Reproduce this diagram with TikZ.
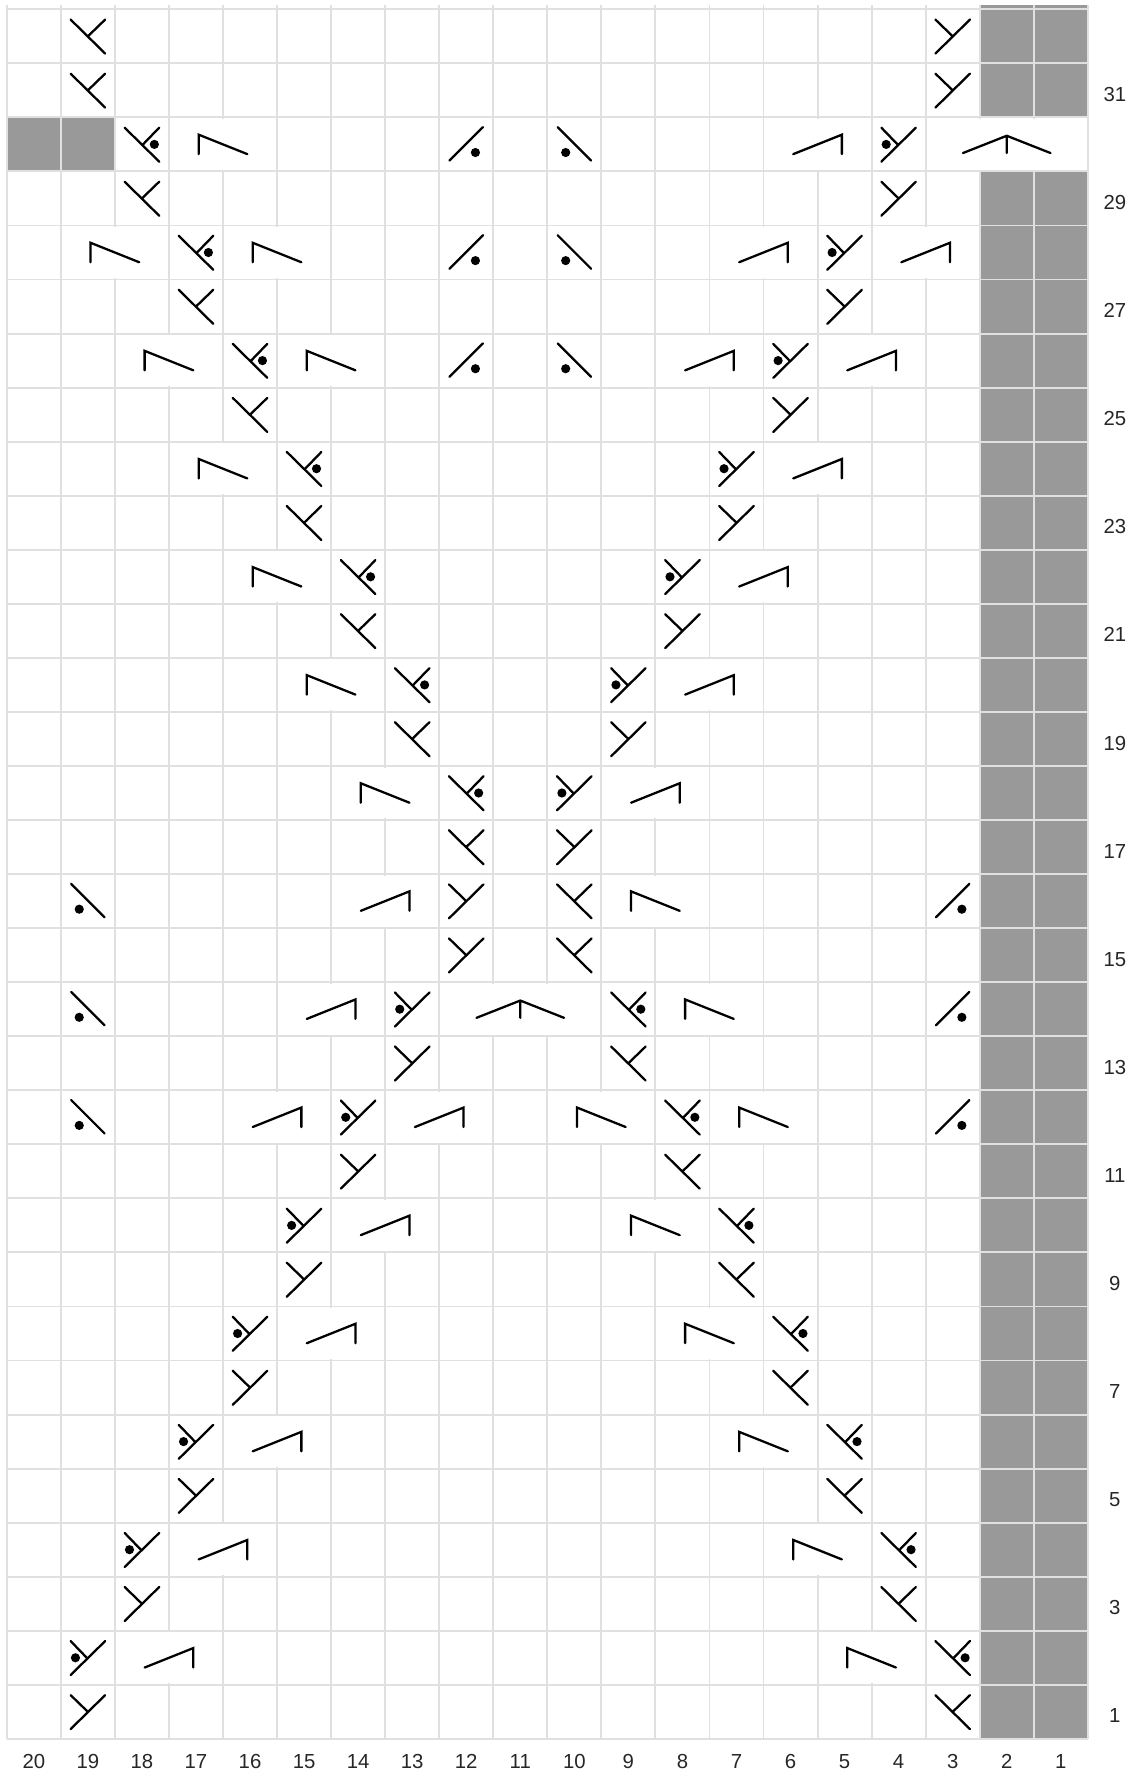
\documentclass[tikz,border=0pt]{standalone}
\usepackage{fontspec}
\setmainfont{Liberation Sans}
\usepackage{xcolor}
\usepackage{tikz}
\definecolor{colGrid}{RGB}{224,224,224}
\definecolor{colNo}{RGB}{153,153,153}

\begin{document}
\begin{tikzpicture}[
  lab/.style={font=\fontsize{10.7}{12}\selectfont, text=black!85, inner sep=0pt, anchor=base},
  gr/.style={draw=colGrid, line width=1pt},
  nost/.style={fill=colNo},
  st/.style={black, line width=1.2pt, line cap=round, line join=miter},
  dot/.style={fill=black},
  % decreases, one cell wide
  kl/.pic={\draw[st] (-.32,.31)--(.32,-.32) (.32,.31)--(0,0);},
  kr/.pic={\draw[st] (.32,.31)--(-.32,-.32) (-.32,.31)--(0,0);},
  kld/.pic={\draw[st] (-.32,.31)--(.32,-.32) (.32,.31)--(.02,0);
    \fill[dot] (.23,0) circle (.085);},
  krd/.pic={\draw[st] (.32,.31)--(-.32,-.32) (-.32,.31)--(-.02,0);
    \fill[dot] (-.23,0) circle (.085);},
  % yarn overs
  ynr/.pic={\draw[st] (-.31,-.3)--(.31,.32); \fill[dot] (.17,-.15) circle (.085);},
  ynl/.pic={\draw[st] (-.31,.32)--(.31,-.3); \fill[dot] (-.16,-.15) circle (.085);},
  % two cells wide, placed at the left cell
  wdn/.pic={\fill[white] (.45,-.47) rectangle (.55,.47);
    \draw[st] (.05,-.18)--(.05,.18)--(.95,-.18);},
  wup/.pic={\fill[white] (.45,-.47) rectangle (.55,.47);
    \draw[st] (.05,-.18)--(.95,.18)--(.95,-.18);},
  % three cells wide, placed at the middle cell
  wtr/.pic={\fill[white] (-.55,-.47) rectangle (.55,.47);
    \draw[st] (-.81,-.16)--(0,.16)--(.81,-.16) (0,.16)--(0,-.16);}
]
\useasboundingbox (-.126,-.65) rectangle (20.836,32.172);

% Cell centres
\foreach \c in {1,...,20}
  \foreach \r in {1,...,32}
    \coordinate (c\c-\r) at ({20.5-\c},{\r-.5});

% No stitch
\fill[nost] (18,0) rectangle (20,29);
\fill[nost] (18,30) rectangle (20,32.07);
\fill[nost] (0,29) rectangle (2,30);

% Grid
\foreach \r in {0,...,32}
  \draw[gr] (0,\r)--(20,\r);
\foreach \x in {0,...,20}
  \draw[gr] (\x,0)--(\x,32.07);

% Labels
\foreach \r in {1,3,...,31}
  \node[lab] (r\r) at (20.5,{\r-.705}) {\r};
\foreach \c in {1,...,20}
  \node[lab] (n\c) at ({20.5-\c},-.545) {\c};

% Row 32
\pic at (c19-32) {kl};
\pic at (c3-32) {kr};
% Row 31
\pic at (c19-31) {kl};
\pic at (c3-31) {kr};
% Row 30
\pic at (c18-30) {kld};
\pic at (c17-30) {wdn};
\pic at (c12-30) {ynr};
\pic at (c10-30) {ynl};
\pic at (c6-30) {wup};
\pic at (c4-30) {krd};
\pic at (c2-30) {wtr};
% Row 29
\pic at (c18-29) {kl};
\pic at (c4-29) {kr};
% Row 28
\pic at (c19-28) {wdn};
\pic at (c17-28) {kld};
\pic at (c16-28) {wdn};
\pic at (c12-28) {ynr};
\pic at (c10-28) {ynl};
\pic at (c7-28) {wup};
\pic at (c5-28) {krd};
\pic at (c4-28) {wup};
% Row 27
\pic at (c17-27) {kl};
\pic at (c5-27) {kr};
% Row 26
\pic at (c18-26) {wdn};
\pic at (c16-26) {kld};
\pic at (c15-26) {wdn};
\pic at (c12-26) {ynr};
\pic at (c10-26) {ynl};
\pic at (c8-26) {wup};
\pic at (c6-26) {krd};
\pic at (c5-26) {wup};
% Row 25
\pic at (c16-25) {kl};
\pic at (c6-25) {kr};
% Row 24
\pic at (c17-24) {wdn};
\pic at (c15-24) {kld};
\pic at (c7-24) {krd};
\pic at (c6-24) {wup};
% Row 23
\pic at (c15-23) {kl};
\pic at (c7-23) {kr};
% Row 22
\pic at (c16-22) {wdn};
\pic at (c14-22) {kld};
\pic at (c8-22) {krd};
\pic at (c7-22) {wup};
% Row 21
\pic at (c14-21) {kl};
\pic at (c8-21) {kr};
% Row 20
\pic at (c15-20) {wdn};
\pic at (c13-20) {kld};
\pic at (c9-20) {krd};
\pic at (c8-20) {wup};
% Row 19
\pic at (c13-19) {kl};
\pic at (c9-19) {kr};
% Row 18
\pic at (c14-18) {wdn};
\pic at (c12-18) {kld};
\pic at (c10-18) {krd};
\pic at (c9-18) {wup};
% Row 17
\pic at (c12-17) {kl};
\pic at (c10-17) {kr};
% Row 16
\pic at (c19-16) {ynl};
\pic at (c14-16) {wup};
\pic at (c12-16) {kr};
\pic at (c10-16) {kl};
\pic at (c9-16) {wdn};
\pic at (c3-16) {ynr};
% Row 15
\pic at (c12-15) {kr};
\pic at (c10-15) {kl};
% Row 14
\pic at (c19-14) {ynl};
\pic at (c15-14) {wup};
\pic at (c13-14) {krd};
\pic at (c11-14) {wtr};
\pic at (c9-14) {kld};
\pic at (c8-14) {wdn};
\pic at (c3-14) {ynr};
% Row 13
\pic at (c13-13) {kr};
\pic at (c9-13) {kl};
% Row 12
\pic at (c19-12) {ynl};
\pic at (c16-12) {wup};
\pic at (c14-12) {krd};
\pic at (c13-12) {wup};
\pic at (c10-12) {wdn};
\pic at (c8-12) {kld};
\pic at (c7-12) {wdn};
\pic at (c3-12) {ynr};
% Row 11
\pic at (c14-11) {kr};
\pic at (c8-11) {kl};
% Row 10
\pic at (c15-10) {krd};
\pic at (c14-10) {wup};
\pic at (c9-10) {wdn};
\pic at (c7-10) {kld};
% Row 9
\pic at (c15-9) {kr};
\pic at (c7-9) {kl};
% Row 8
\pic at (c16-8) {krd};
\pic at (c15-8) {wup};
\pic at (c8-8) {wdn};
\pic at (c6-8) {kld};
% Row 7
\pic at (c16-7) {kr};
\pic at (c6-7) {kl};
% Row 6
\pic at (c17-6) {krd};
\pic at (c16-6) {wup};
\pic at (c7-6) {wdn};
\pic at (c5-6) {kld};
% Row 5
\pic at (c17-5) {kr};
\pic at (c5-5) {kl};
% Row 4
\pic at (c18-4) {krd};
\pic at (c17-4) {wup};
\pic at (c6-4) {wdn};
\pic at (c4-4) {kld};
% Row 3
\pic at (c18-3) {kr};
\pic at (c4-3) {kl};
% Row 2
\pic at (c19-2) {krd};
\pic at (c18-2) {wup};
\pic at (c5-2) {wdn};
\pic at (c3-2) {kld};
% Row 1
\pic at (c19-1) {kr};
\pic at (c3-1) {kl};
\end{tikzpicture}
\end{document}
